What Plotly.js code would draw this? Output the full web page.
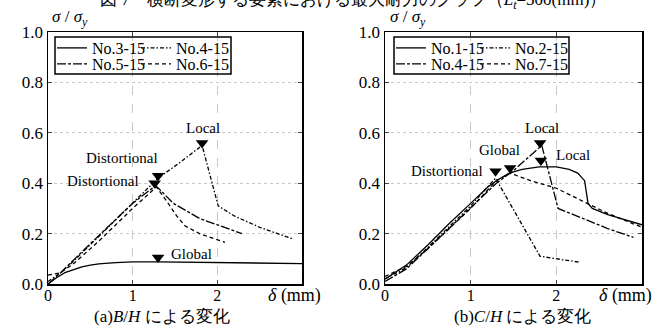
<!DOCTYPE html>
<html><head><meta charset="utf-8">
<script src="https://cdn.plot.ly/plotly-3.0.1.min.js"></script>
<style>html,body{margin:0;padding:0;background:#fff}#chart{width:665px;height:334px}</style>
</head><body><div id="chart"></div>
<script>
// ---------- (a) B/H ----------
const a_no3_x = [0, 0.1, 0.2, 0.3, 0.4, 0.5, 0.6, 0.8, 1.0, 1.3, 1.7, 2.0, 2.5, 3.0];
const a_no3_y = [0, 0.025, 0.045, 0.058, 0.068, 0.075, 0.08, 0.085, 0.088, 0.088, 0.087, 0.085, 0.083, 0.081];
const a_no4_x = [0, 0.15, 0.3, 0.6, 1.0, 1.3, 1.55, 1.82, 2.01, 2.2, 2.5, 2.88];
const a_no4_y = [0.01, 0.045, 0.09, 0.19, 0.32, 0.42, 0.48, 0.55, 0.31, 0.27, 0.225, 0.18];
const a_no5_x = [0, 0.15, 0.5, 1.0, 1.27, 1.32, 1.48, 1.79, 2.0, 2.29];
const a_no5_y = [0.0, 0.045, 0.16, 0.32, 0.39, 0.375, 0.32, 0.26, 0.235, 0.20];
const a_no6_x = [0, 0.15, 0.3, 0.6, 1.0, 1.28, 1.4, 1.52, 1.62, 1.79, 2.09];
const a_no6_y = [0.035, 0.045, 0.08, 0.17, 0.30, 0.385, 0.33, 0.27, 0.23, 0.20, 0.165];
const a_mark_x = [1.82, 1.30, 1.26, 1.30];
const a_mark_y = [0.56, 0.43, 0.40, 0.105];
const a_labels = ["Local", "Distortional", "Distortional", "Global"];
const a_names = ["No.3-15", "No.4-15", "No.5-15", "No.6-15"];

// ---------- (b) C/H ----------
const b_no1_x = [0, 0.25, 0.5, 0.75, 1.0, 1.2, 1.3, 1.45, 1.6, 1.8, 2.0, 2.15, 2.25, 2.33, 2.37, 2.42, 2.6, 2.8, 3.0];
const b_no1_y = [0.02, 0.075, 0.155, 0.24, 0.32, 0.385, 0.41, 0.44, 0.455, 0.465, 0.465, 0.455, 0.44, 0.41, 0.32, 0.30, 0.275, 0.255, 0.235];
const b_no2_x = [0, 0.25, 0.5, 1.0, 1.29, 1.81, 2.26];
const b_no2_y = [0.02, 0.065, 0.145, 0.31, 0.42, 0.11, 0.087];
const b_no4_x = [0, 0.25, 0.5, 1.0, 1.3, 1.5, 1.66, 1.83, 2.02, 2.3, 2.6, 2.9];
const b_no4_y = [0.01, 0.06, 0.14, 0.30, 0.40, 0.45, 0.50, 0.55, 0.30, 0.26, 0.22, 0.185];
const b_no7_x = [0, 0.25, 0.5, 1.0, 1.3, 1.46, 1.7, 2.0, 2.3, 2.6, 3.0];
const b_no7_y = [0.03, 0.07, 0.14, 0.30, 0.41, 0.44, 0.41, 0.38, 0.33, 0.28, 0.225];
const b_mark_x = [1.29, 1.46, 1.81, 1.82];
const b_mark_y = [0.447, 0.46, 0.56, 0.49];
const b_labels = ["Distortional", "Global", "Local", "Local"];
const b_names = ["No.1-15", "No.2-15", "No.4-15", "No.7-15"];

const yTicks = [0, 0.2, 0.4, 0.6, 0.8, 1.0];
const xTicks = [0, 1, 2];
const xTickText = ["0", "1", "2"];

const SERIF = "Liberation Serif";
const SOLID = "solid", DASHDOT = "4px,2px,1.5px,2px", LONGDASHDOT = "9px,2px,3px,2px", DASH = "4px,3px";

function line(x, y, name, dash, xa, ya, leg) {
  return {x, y, name, type: "scatter", mode: "lines", xaxis: xa, yaxis: ya, legend: leg,
    line: {color: "#000", width: 1.3, dash: dash}};
}
const traces = [
  line(a_no3_x, a_no3_y, a_names[0], SOLID, "x", "y", "legend"),
  line(a_no5_x, a_no5_y, a_names[2], LONGDASHDOT, "x", "y", "legend2"),
  line(a_no4_x, a_no4_y, a_names[1], DASHDOT, "x", "y", "legend3"),
  line(a_no6_x, a_no6_y, a_names[3], DASH, "x", "y", "legend4"),
  line(b_no1_x, b_no1_y, b_names[0], SOLID, "x2", "y2", "legend5"),
  line(b_no4_x, b_no4_y, b_names[2], LONGDASHDOT, "x2", "y2", "legend6"),
  line(b_no2_x, b_no2_y, b_names[1], DASHDOT, "x2", "y2", "legend7"),
  line(b_no7_x, b_no7_y, b_names[3], DASH, "x2", "y2", "legend8"),
  {x: a_mark_x, y: a_mark_y, type: "scatter", mode: "markers", xaxis: "x", yaxis: "y", showlegend: false,
    marker: {symbol: "triangle-down", size: 11, color: "#000"}},
  {x: b_mark_x, y: b_mark_y, type: "scatter", mode: "markers", xaxis: "x2", yaxis: "y2", showlegend: false,
    marker: {symbol: "triangle-down", size: 11, color: "#000"}}
];

function xaxis(domain, anchor) {
  return {domain, anchor, range: [0, 3], tickvals: xTicks, ticktext: xTickText, ticks: "inside", ticklen: 4,
    showline: true, linecolor: "#000", linewidth: 1.5, mirror: "ticks", zeroline: false,
    showgrid: true, gridcolor: "#c8c8c8", griddash: "dash", gridwidth: 1, ticklabelstandoff: -4,
    tickfont: {family: SERIF, size: 16, color: "#000"}};
}
function yaxis(anchor) {
  return {domain: [0, 1], anchor, range: [0, 1], tickvals: yTicks, tickformat: ".1f", ticks: "inside", ticklen: 4,
    showline: true, linecolor: "#000", linewidth: 1.5, mirror: "ticks", zeroline: false,
    showgrid: true, gridcolor: "#c8c8c8", griddash: "dot", gridwidth: 1,
    tickfont: {family: SERIF, size: 17, color: "#000"}};
}
const W = 665, T = 32, B = 50, PH = 334 - T - B;
const px = v => v / W;
const py = v => (334 - B - v) / PH;

function legend(xpx, ypx) {
  return {x: px(xpx), y: py(ypx), xanchor: "left", yanchor: "middle", bgcolor: "rgba(0,0,0,0)", borderwidth: 0,
    font: {family: SERIF, size: 16, color: "#000"}, tracegroupgap: 0, itemwidth: 30};
}

function ann(text, x, y, xref, yref, extra) {
  return Object.assign({text, x, y, xref, yref, showarrow: false, xanchor: "center", yanchor: "middle",
    font: {family: SERIF, size: 15, color: "#000"}}, extra || {});
}

const annotations = [
  ann("図 7　横断変形する要素における最大耐力のグラフ（<i>L<sub>t</sub></i>=500(mm)）", px(353), py(1), "paper", "paper",
    {font: {family: SERIF, size: 17, color: "#000"}}),
  ann("<i>σ</i> / <i>σ<sub>y</sub></i>", px(50), py(18), "paper", "paper", {xanchor: "left", font: {family: SERIF, size: 17, color: "#000"}}),
  ann("<i>σ</i> / <i>σ<sub>y</sub></i>", px(388), py(18), "paper", "paper", {xanchor: "left", font: {family: SERIF, size: 17, color: "#000"}}),
  ann("<i>δ</i> (mm)", px(266), py(295), "paper", "paper", {xanchor: "left", font: {family: SERIF, size: 18, color: "#000"}}),
  ann("<i>δ</i> (mm)", px(597), py(295), "paper", "paper", {xanchor: "left", font: {family: SERIF, size: 18, color: "#000"}}),
  ann("(a)<i>B</i>/<i>H</i> による変化", px(162), py(316), "paper", "paper", {font: {family: SERIF, size: 17, color: "#000"}}),
  ann("(b)<i>C</i>/<i>H</i> による変化", px(522), py(316), "paper", "paper", {font: {family: SERIF, size: 17, color: "#000"}}),
  ann(a_labels[0], 1.83, 0.62, "x", "y"),
  ann(a_labels[1], 0.87, 0.50, "x", "y"),
  ann(a_labels[2], 0.65, 0.41, "x", "y"),
  ann(a_labels[3], 1.70, 0.12, "x", "y"),
  ann(b_labels[0], 0.72, 0.447, "x2", "y2"),
  ann(b_labels[1], 1.34, 0.53, "x2", "y2"),
  ann(b_labels[2], 1.83, 0.62, "x2", "y2"),
  ann(b_labels[3], 2.19, 0.51, "x2", "y2")
];

const shapes = [
  {type: "rect", xref: "paper", yref: "paper", x0: px(55), x1: px(231), y0: py(74), y1: py(37), line: {color: "#000", width: 1.5}},
  {type: "rect", xref: "paper", yref: "paper", x0: px(394), x1: px(569), y0: py(74), y1: py(37), line: {color: "#000", width: 1.5}}
];

const layout = {
  width: 665, height: 334, margin: {l: 0, r: 0, t: T, b: B},
  paper_bgcolor: "#fff", plot_bgcolor: "#fff", showlegend: true,
  xaxis: xaxis([px(48), px(302)], "y"),
  yaxis: yaxis("x"),
  xaxis2: xaxis([px(385), px(642)], "y2"),
  yaxis2: yaxis("x2"),
  legend: legend(52, 48), legend2: legend(52, 64),
  legend3: legend(136, 48), legend4: legend(136, 64),
  legend5: legend(391, 48), legend6: legend(391, 64),
  legend7: legend(475, 48), legend8: legend(475, 64),
  annotations, shapes
};
Plotly.newPlot("chart", traces, layout, {staticPlot: true});
</script></body></html>
